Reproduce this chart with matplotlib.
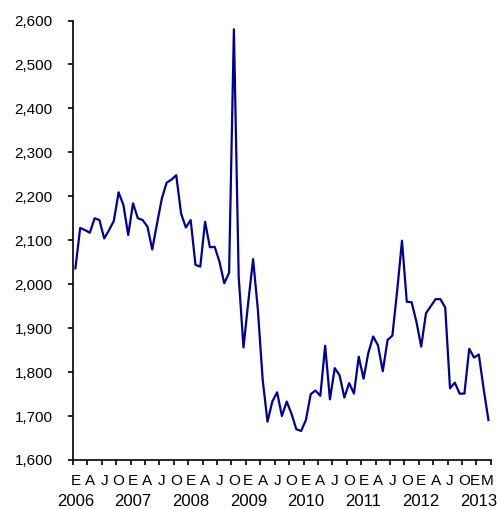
import numpy as np
import matplotlib
matplotlib.use('Agg')
import matplotlib.pyplot as plt

plt.rcParams['font.family'] = ['Liberation Sans', 'DejaVu Sans']

# monthly values, Jan 2006 - Mar 2013
values = [2036, 2128, 2123, 2117, 2150, 2146, 2104, 2123, 2144, 2209, 2180, 2112,
          2184, 2150, 2146, 2131, 2079, 2138, 2195, 2231, 2238, 2248, 2161, 2129,
          2146, 2044, 2040, 2142, 2084, 2085, 2051, 2002, 2026, 2580, 2017, 1856,
          1960, 2057, 1941, 1782, 1687, 1733, 1754, 1700, 1733, 1705, 1670, 1666,
          1691, 1750, 1758, 1746, 1860, 1738, 1809, 1793, 1742, 1775, 1751, 1835,
          1785, 1844, 1881, 1861, 1802, 1873, 1883, 1985, 2099, 1960, 1959, 1915,
          1858, 1934, 1950, 1966, 1966, 1947, 1763, 1776, 1751, 1751, 1853, 1833,
          1840, 1762, 1691]
years = ['2006', '2007', '2008', '2009', '2010', '2011', '2012', '2013']
month_letters = ['E', 'A', 'J', 'O'] * 7 + ['E', 'M']

x = np.arange(len(values))
# letters sit under Jan/Apr/Jul/Oct; the last two squeezed a bit so they don't collide
letter_pos = list(range(0, 84, 3)) + [83.2, 85.8]

fig = plt.figure(figsize=(5.01, 5.09), dpi=100)
ax = fig.add_axes([0.1457, 0.0963, 0.834, 0.8634])

ax.plot(x, values, color='#000099', lw=1.6)

ax.set_xlim(-0.5, len(values) - 0.5)
ax.set_ylim(1600, 2600)
ax.set_yticks(np.arange(1600, 2601, 100))
ax.set_yticklabels(['{:,}'.format(v) for v in range(1600, 2601, 100)], fontsize=11)

# tick marks between quarters
ax.set_xticks(np.arange(-0.5, len(values), 3))
ax.set_xticklabels([])
ax.set_xticks(letter_pos, minor=True)
ax.set_xticklabels(month_letters, minor=True, fontsize=11)
ax.tick_params(axis='x', which='minor', length=0, pad=10)
ax.tick_params(axis='x', which='major', length=3.6, width=1.2, direction='out')
ax.tick_params(axis='y', length=3.6, width=1.2, direction='out', pad=11)

for i, yr in enumerate(years):
    ax.annotate(yr, xy=(i * 12, 0), xycoords=('data', 'axes fraction'),
                xytext=(0, -30), textcoords='offset points',
                ha='center', va='center', fontsize=12)

for s in ['top', 'right']:
    ax.spines[s].set_visible(False)
for s in ['left', 'bottom']:
    ax.spines[s].set_linewidth(1.2)

fig.savefig('out.png', dpi=100)
